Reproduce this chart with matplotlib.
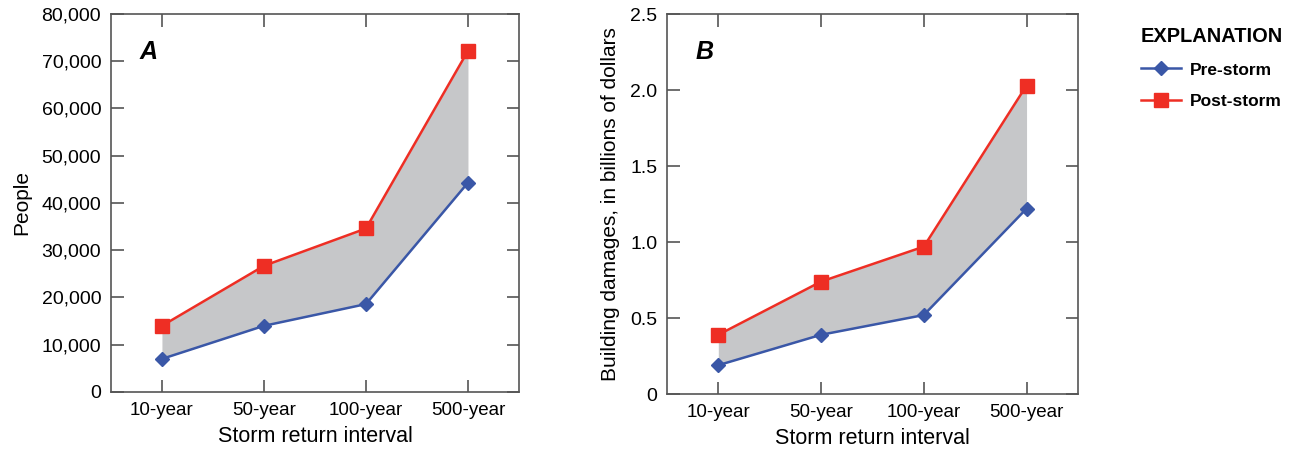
import matplotlib
matplotlib.use("Agg")
import matplotlib.pyplot as plt
from matplotlib.lines import Line2D
from matplotlib.ticker import FuncFormatter, MultipleLocator

plt.rcParams['font.family'] = ['Liberation Sans', 'DejaVu Sans']

intervals = ['10-year', '50-year', '100-year', '500-year']

people_pre = [7000, 14000, 18600, 44300]
people_post = [14000, 26700, 34600, 72200]

damage_pre = [0.19, 0.39, 0.52, 1.22]
damage_post = [0.39, 0.74, 0.97, 2.03]

RED = '#ee2e24'
BLUE = '#3a57a7'
FILL = '#c6c7c9'
SPINE = '#555555'

fig = plt.figure(figsize=(12.9, 4.54), dpi=100)
ax_a = fig.add_axes([0.086, 0.1366, 0.3163, 0.8326])
ax_b = fig.add_axes([0.517, 0.132, 0.3186, 0.837])


def draw_panel(ax, pre, post, letter, ylabel, ymax, step, fmt):
    x = list(range(len(intervals)))
    ax.fill_between(x, pre, post, color=FILL, lw=0, zorder=1)
    ax.plot(x, pre, color=BLUE, lw=1.8, marker='D', ms=7, zorder=3)
    ax.plot(x, post, color=RED, lw=1.8, marker='s', ms=9.5, zorder=4)
    ax.set_xlim(-0.5, 3.5)
    ax.set_ylim(0, ymax)
    ax.yaxis.set_major_locator(MultipleLocator(step))
    ax.yaxis.set_major_formatter(FuncFormatter(fmt))
    ax.set_xticks(x)
    ax.set_xticklabels(intervals)
    ax.tick_params(direction='in', length=9, width=1.2, color=SPINE,
                   top=True, right=True, pad=7)
    ax.tick_params(axis='x', labelsize=13.5)
    ax.tick_params(axis='y', labelsize=14)
    for s in ax.spines.values():
        s.set_color(SPINE)
        s.set_linewidth(1.2)
    ax.set_xlabel('Storm return interval', fontsize=15.5, labelpad=5)
    ax.set_ylabel(ylabel, fontsize=15, labelpad=7)
    ax.text(0.07, 0.9, letter, transform=ax.transAxes, fontsize=18,
            fontweight='bold', fontstyle='italic', ha='left', va='center')


draw_panel(ax_a, people_pre, people_post, 'A', 'People', 80000, 10000,
           lambda v, p: f'{v:,.0f}')
draw_panel(ax_b, damage_pre, damage_post, 'B',
           'Building damages, in billions of dollars', 2.5, 0.5,
           lambda v, p: '0' if v == 0 else f'{v:.1f}')

handles = [
    Line2D([], [], color=BLUE, lw=1.8, marker='D', ms=7),
    Line2D([], [], color=RED, lw=1.8, marker='s', ms=9.5),
]
leg = fig.legend(handles, ['Pre-storm', 'Post-storm'], title='EXPLANATION',
                 loc='upper left', bbox_to_anchor=(0.875, 0.968),
                 frameon=False, handlelength=2.3, handletextpad=0.5,
                 labelspacing=0.95, alignment='left', borderpad=0.2,
                 prop={'size': 12.5, 'weight': 'bold'},
                 title_fontproperties={'size': 14.4, 'weight': 'bold'})
leg._legend_box.sep = 12

fig.savefig('out.png', dpi=100)
